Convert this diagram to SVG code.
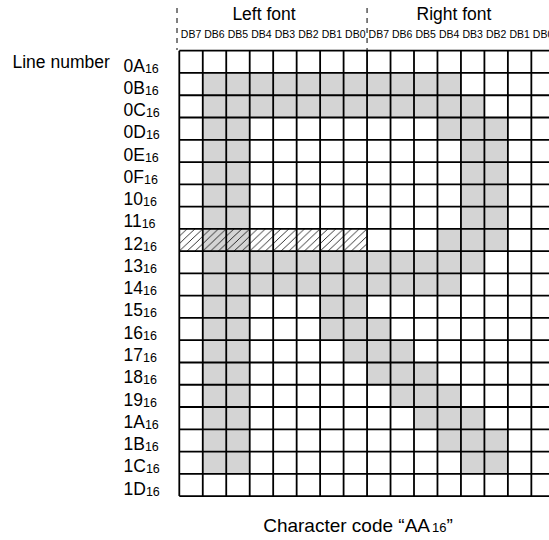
<svg xmlns="http://www.w3.org/2000/svg" width="549" height="540" viewBox="0 0 549 540">
<style>
text{font-family:"Liberation Sans",Arial,sans-serif;fill:#000}
.hd{font-size:17.5px;text-anchor:middle}
.db{font-size:10.5px;text-anchor:middle}
.rl{font-size:17.5px}
.sub{font-size:12.5px}
.on{fill:#d4d4d4}
.grid{fill:none;stroke:#000;stroke-width:1.8}
.dash{stroke:#000;stroke-width:1;stroke-dasharray:5 5}
</style>
<defs>
<pattern id="hatch" patternUnits="userSpaceOnUse" x="179.3" y="228.86" width="7.823" height="7.423">
<path d="M0,7.423 L7.823,0" stroke="#000" stroke-width="0.8" fill="none"/>
</pattern>
</defs>
<rect width="549" height="540" fill="#fff"/>

<g id="headers">
<text class="hd" x="264" y="20">Left font</text>
<text class="hd" x="454" y="20">Right font</text>
<line class="dash" x1="177" y1="8" x2="177" y2="50"/>
<line class="dash" x1="367.06" y1="8" x2="367.06" y2="50"/>
</g>

<g id="bit-labels">
<text class="db" x="191.03" y="37.5">DB7</text>
<text class="db" x="214.5" y="37.5">DB6</text>
<text class="db" x="237.97" y="37.5">DB5</text>
<text class="db" x="261.44" y="37.5">DB4</text>
<text class="db" x="284.91" y="37.5">DB3</text>
<text class="db" x="308.38" y="37.5">DB2</text>
<text class="db" x="331.85" y="37.5">DB1</text>
<text class="db" x="355.32" y="37.5">DB0</text>
<text class="db" x="378.79" y="37.5">DB7</text>
<text class="db" x="402.26" y="37.5">DB6</text>
<text class="db" x="425.73" y="37.5">DB5</text>
<text class="db" x="449.2" y="37.5">DB4</text>
<text class="db" x="472.67" y="37.5">DB3</text>
<text class="db" x="496.14" y="37.5">DB2</text>
<text class="db" x="519.61" y="37.5">DB1</text>
<text class="db" x="543.08" y="37.5">DB0</text>
</g>

<g id="row-labels">
<text class="rl" x="12.5" y="68">Line number</text>
<text class="rl" x="123.5" y="71.5">0A<tspan class="sub" dy="1">16</tspan></text>
<text class="rl" x="123.5" y="93.77">0B<tspan class="sub" dy="1">16</tspan></text>
<text class="rl" x="123.5" y="116.04">0C<tspan class="sub" dy="1">16</tspan></text>
<text class="rl" x="123.5" y="138.31">0D<tspan class="sub" dy="1">16</tspan></text>
<text class="rl" x="123.5" y="160.58">0E<tspan class="sub" dy="1">16</tspan></text>
<text class="rl" x="123.5" y="182.85">0F<tspan class="sub" dy="1">16</tspan></text>
<text class="rl" x="123.5" y="205.12">10<tspan class="sub" dy="1">16</tspan></text>
<text class="rl" x="123.5" y="227.39">11<tspan class="sub" dy="1">16</tspan></text>
<text class="rl" x="123.5" y="249.66">12<tspan class="sub" dy="1">16</tspan></text>
<text class="rl" x="123.5" y="271.93">13<tspan class="sub" dy="1">16</tspan></text>
<text class="rl" x="123.5" y="294.2">14<tspan class="sub" dy="1">16</tspan></text>
<text class="rl" x="123.5" y="316.47">15<tspan class="sub" dy="1">16</tspan></text>
<text class="rl" x="123.5" y="338.74">16<tspan class="sub" dy="1">16</tspan></text>
<text class="rl" x="123.5" y="361.01">17<tspan class="sub" dy="1">16</tspan></text>
<text class="rl" x="123.5" y="383.28">18<tspan class="sub" dy="1">16</tspan></text>
<text class="rl" x="123.5" y="405.55">19<tspan class="sub" dy="1">16</tspan></text>
<text class="rl" x="123.5" y="427.82">1A<tspan class="sub" dy="1">16</tspan></text>
<text class="rl" x="123.5" y="450.09">1B<tspan class="sub" dy="1">16</tspan></text>
<text class="rl" x="123.5" y="472.36">1C<tspan class="sub" dy="1">16</tspan></text>
<text class="rl" x="123.5" y="494.63">1D<tspan class="sub" dy="1">16</tspan></text>
</g>

<g id="dots">
<rect class="on" x="202.77" y="72.97" width="46.94" height="400.86"/>
<rect class="on" x="202.77" y="72.97" width="258.17" height="22.27"/>
<rect class="on" x="202.77" y="95.24" width="281.64" height="22.27"/>
<rect class="on" x="437.47" y="117.51" width="23.47" height="22.27"/>
<rect class="on" x="460.94" y="117.51" width="46.94" height="133.62"/>
<rect class="on" x="437.47" y="228.86" width="23.47" height="22.27"/>
<rect class="on" x="202.77" y="251.13" width="281.64" height="22.27"/>
<rect class="on" x="202.77" y="273.4" width="258.17" height="22.27"/>
<rect class="on" x="320.12" y="295.67" width="46.94" height="22.27"/>
<rect class="on" x="320.12" y="317.94" width="70.41" height="22.27"/>
<rect class="on" x="343.59" y="340.21" width="70.41" height="22.27"/>
<rect class="on" x="367.06" y="362.48" width="70.41" height="22.27"/>
<rect class="on" x="390.53" y="384.75" width="70.41" height="22.27"/>
<rect class="on" x="414" y="407.02" width="70.41" height="22.27"/>
<rect class="on" x="437.47" y="429.29" width="70.41" height="22.27"/>
<rect class="on" x="460.94" y="451.56" width="46.94" height="22.27"/>
<rect x="179.3" y="228.86" width="187.76" height="22.27" fill="url(#hatch)"/>
</g>

<g id="grid">
<path class="grid" d="M179.3,50.7V496.1M202.77,50.7V496.1M226.24,50.7V496.1M249.71,50.7V496.1M273.18,50.7V496.1M296.65,50.7V496.1M320.12,50.7V496.1M343.59,50.7V496.1M367.06,50.7V496.1M390.53,50.7V496.1M414,50.7V496.1M437.47,50.7V496.1M460.94,50.7V496.1M484.41,50.7V496.1M507.88,50.7V496.1M531.35,50.7V496.1M554.82,50.7V496.1
M179.3,50.7H554.82M179.3,72.97H554.82M179.3,95.24H554.82M179.3,117.51H554.82M179.3,139.78H554.82M179.3,162.05H554.82M179.3,184.32H554.82M179.3,206.59H554.82M179.3,228.86H554.82M179.3,251.13H554.82M179.3,273.4H554.82M179.3,295.67H554.82M179.3,317.94H554.82M179.3,340.21H554.82M179.3,362.48H554.82M179.3,384.75H554.82M179.3,407.02H554.82M179.3,429.29H554.82M179.3,451.56H554.82M179.3,473.83H554.82M179.3,496.1H554.82"/>
</g>

<g id="caption">
<text x="358" y="532" style="font-size:19px;text-anchor:middle">Character code “AA<tspan style="font-size:13px" dx="2">16</tspan>”</text>
</g>
</svg>
